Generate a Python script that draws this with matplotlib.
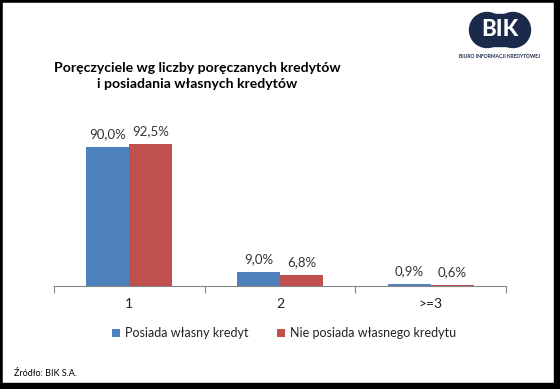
import matplotlib.pyplot as plt
from matplotlib.patches import Rectangle, Circle

plt.rcParams['font.family'] = ['Lato', 'DejaVu Sans']

categories = ['1', '2', '>=3']
own_credit = [90.0, 9.0, 0.9]
no_own_credit = [92.5, 6.8, 0.6]
series_names = ['Posiada własny kredyt', 'Nie posiada własnego kredytu']
title = 'Poręczyciele wg liczby poręczanych kredytów\ni posiadania własnych kredytów'
source = 'Źródło: BIK S.A.'

blue = '#4F81BD'
red = '#C0504D'
navy = '#1B2A4A'

fig = plt.figure(figsize=(5.6, 3.89), dpi=100)
ax = fig.add_axes([54/560, 1-285.6/389, 452/560, 153.5/389])

w = 0.285
x = list(range(len(categories)))
b1 = ax.bar([i - w/2 for i in x], own_credit, w, color=blue, label=series_names[0])
b2 = ax.bar([i + w/2 for i in x], no_own_credit, w, color=red, label=series_names[1])

for bars, vals in ((b1, own_credit), (b2, no_own_credit)):
    for r, v in zip(bars, vals):
        ax.annotate(f'{v:.1f}%'.replace('.', ','), (r.get_x() + r.get_width()/2, r.get_height()),
                    xytext=(0, 5), textcoords='offset points', ha='center', va='bottom',
                    fontsize=9.5, color='#333333')

ax.set_xlim(-0.5, 2.5)
ax.set_ylim(0, 100)
ax.set_yticks([])
for s in ('top', 'right', 'left'):
    ax.spines[s].set_visible(False)
ax.spines['bottom'].set_color('#868686')
ax.set_xticks([-0.5, 0.5, 1.5, 2.5])
ax.set_xticklabels([])
ax.tick_params(axis='x', which='major', length=5, color='#868686')
ax.set_xticks(x, minor=True)
ax.set_xticklabels(categories, minor=True, fontsize=10, color='#222222')
ax.tick_params(axis='x', which='minor', length=0, pad=9)

fig.legend(loc='center', bbox_to_anchor=(284/560, 1-333/389), ncol=2, frameon=False,
           fontsize=9, handlelength=0.6, handleheight=0.6, handletextpad=0.4,
           columnspacing=2.3, labelcolor='#222222')

fig.text(197/560, 1-76/389, title, ha='center', va='center', fontsize=10.1,
         fontweight='bold', linespacing=1.35)
fig.text(14/560, 1-374/389, source, ha='left', va='center', fontsize=6.5)

# logo
lax = fig.add_axes([468/560, 1-49/389, 66/560, 38/389])
lax.set_xlim(0, 66)
lax.set_ylim(0, 38)
lax.axis('off')
lax.add_patch(Circle((19, 19), 17.5, color=navy))
lax.add_patch(Circle((45, 19), 17.5, color=navy))
lax.add_patch(Rectangle((19, 3), 26, 32, color=navy))
lax.text(32, 19, 'BIK', ha='center', va='center', fontsize=16, fontweight='black',
         color='white')
fig.text(500/560, 1-57/389, 'BIURO INFORMACJI KREDYTOWEJ', ha='center', va='center',
         fontsize=3.6, fontweight='bold', color=navy)

# frame
fig.patches.append(Rectangle((0, 0), 1, 1, transform=fig.transFigure, fill=False,
                             edgecolor='black', linewidth=4))
fig.patches.append(Rectangle((0, 0), 1, 6/389, transform=fig.transFigure, color='black'))
fig.patches.append(Rectangle((1-6/560, 0), 6/560, 1, transform=fig.transFigure, color='black'))

fig.savefig('out.png', dpi=100)
